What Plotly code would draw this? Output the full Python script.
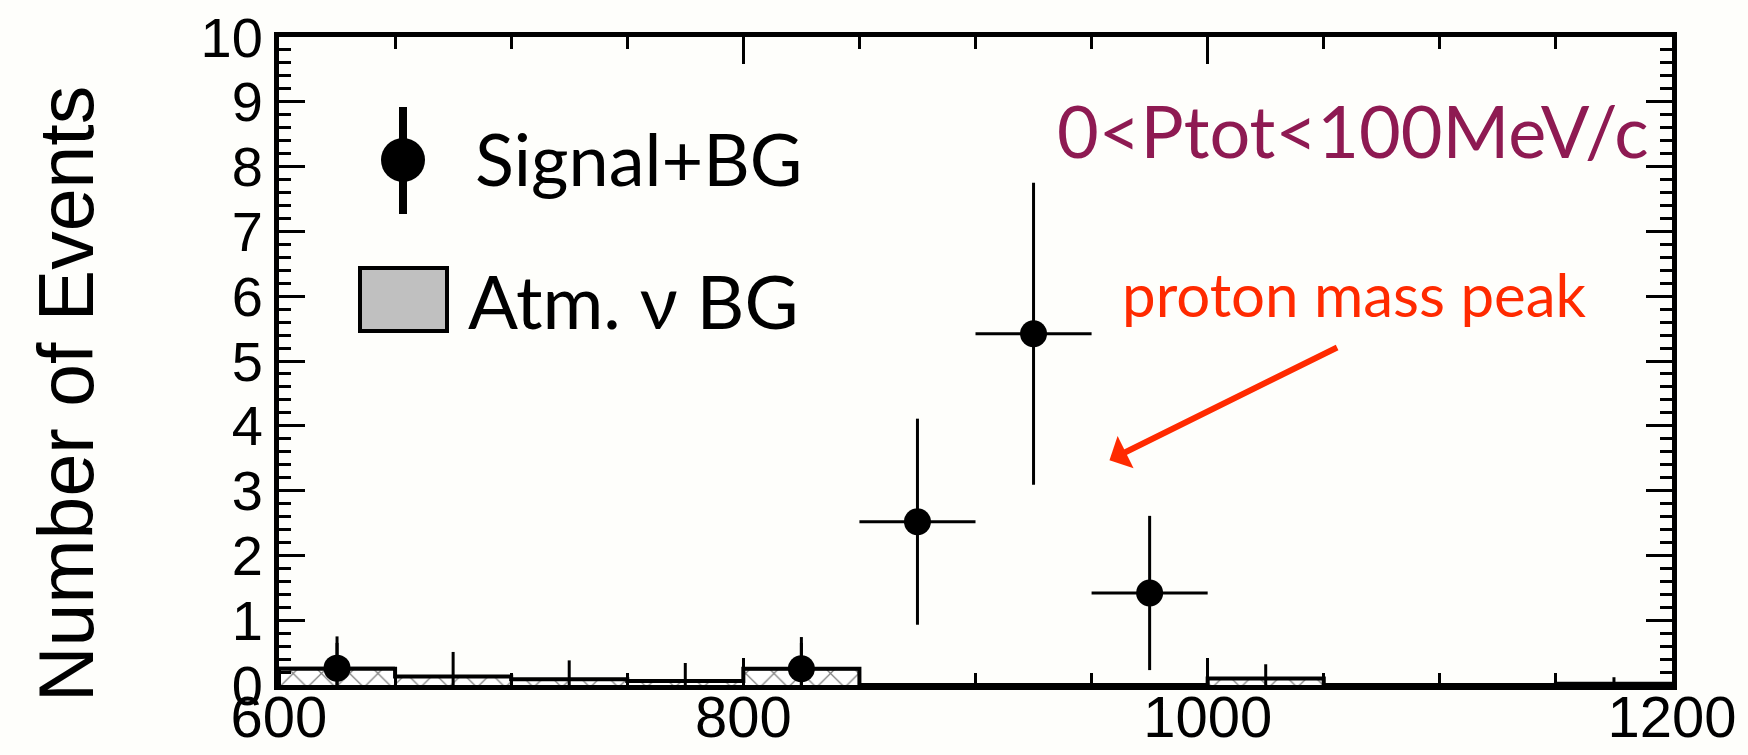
import plotly.graph_objects as go

# Reconstructed invariant mass (MeV/c^2), 50 MeV bins from 600 to 1200
bin_edges = [600, 650, 700, 750, 800, 850, 900, 950, 1000, 1050, 1100, 1150, 1200]
bin_centers = [625, 675, 725, 775, 825, 875, 925, 975, 1025, 1075, 1125, 1175]

# Atmospheric neutrino background expectation per bin and its MC uncertainty
bg_counts = [0.25, 0.13, 0.09, 0.06, 0.25, 0.0, 0.0, 0.0, 0.10, 0.0, 0.0, 0.02]
bg_errors = [0.40, 0.38, 0.29, 0.28, 0.40, 0.0, 0.0, 0.0, 0.22, 0.0, 0.0, 0.10]

# Observed events (signal + background), only non-empty bins
data_mass = [625, 825, 875, 925, 975]
data_counts = [0.26, 0.25, 2.52, 5.42, 1.42]
data_errors = [0.49, 0.49, 1.59, 2.33, 1.19]
half_bin = [25, 25, 25, 25, 25]

x_ticks = [600, 800, 1000, 1200]
y_ticks = list(range(0, 11))

# Plot-area geometry in page pixels
W, H = 1748, 755
L, R, T, B = 279, 1672, 37, 685


def px(xp):
    return (xp - L) / (R - L)


def py(yp):
    return (B - yp) / (B - T)


fig = go.Figure()

# Hatched fill of the background histogram
fig.add_trace(go.Bar(
    x=bin_centers, y=bg_counts, width=50,
    marker=dict(color="white", line=dict(width=0),
                pattern=dict(shape="x", fgcolor="black", bgcolor="white",
                             size=20, solidity=0.12)),
    showlegend=False, hoverinfo="skip",
))

# Step outline of the background histogram
fig.add_trace(go.Scatter(
    x=[bin_edges[0]] + bin_edges, y=[0] + bg_counts + [bg_counts[-1]],
    mode="lines", line=dict(color="black", width=4, shape="hv"),
    showlegend=False, hoverinfo="skip",
))

# MC uncertainty of the background, one vertical segment per filled bin
err_x, err_y = [], []
for c, v, e in zip(bin_centers, bg_counts, bg_errors):
    if e > 0:
        err_x += [c, c, None]
        err_y += [max(v - e, 0), v + e, None]
fig.add_trace(go.Scatter(
    x=err_x, y=err_y, mode="lines", line=dict(color="black", width=3),
    showlegend=False, hoverinfo="skip",
))

# Observed data points
fig.add_trace(go.Scatter(
    x=data_mass, y=data_counts, mode="markers",
    marker=dict(size=27, color="black"),
    error_y=dict(type="data", array=data_errors, color="black",
                 thickness=3, width=0, visible=True),
    error_x=dict(type="data", array=half_bin, color="black",
                 thickness=3, width=0, visible=True),
    showlegend=False,
))

# Hand-drawn legend
shapes = [
    dict(type="line", xref="paper", yref="paper", layer="above",
         x0=px(403), x1=px(403), y0=py(107), y1=py(214),
         line=dict(color="black", width=8)),
    dict(type="circle", xref="paper", yref="paper", layer="above",
         x0=px(381), x1=px(425), y0=py(138), y1=py(182),
         fillcolor="black", line=dict(color="black", width=0)),
    dict(type="rect", xref="paper", yref="paper", layer="above",
         x0=px(360), x1=px(447), y0=py(268), y1=py(331),
         fillcolor="#c0c0c0", line=dict(color="black", width=4)),
]

legend_font = dict(family="Lato", size=72, color="black")
annotations = [
    dict(text="Signal+BG", x=px(473), y=py(158), xref="paper", yref="paper",
         xanchor="left", yanchor="middle", showarrow=False, font=legend_font),
    dict(text="Atm. ν BG", x=px(466), y=py(300), xref="paper", yref="paper",
         xanchor="left", yanchor="middle", showarrow=False,
         font=dict(family="Lato", size=74, color="black")),
    dict(text="0<Ptot<100MeV/c", x=px(1651), y=py(130), xref="paper", yref="paper",
         xanchor="right", yanchor="middle", showarrow=False,
         font=dict(family="Lato", size=72, color="#8e1a52")),
    dict(text="proton mass peak", x=px(1120), y=py(294), xref="paper", yref="paper",
         xanchor="left", yanchor="middle", showarrow=False,
         font=dict(family="Lato", size=60, color="#ff2a00")),
    dict(text="Number of Events", x=px(66), y=py(394), xref="paper", yref="paper",
         xanchor="center", yanchor="middle", textangle=-90, showarrow=False,
         font=dict(family="Liberation Sans", size=77, color="black")),
]

# Arrow pointing at the peak region
arrow_tip = (957.7, 3.47)
arrow_tail = (1056.4, 5.22)
annotations.append(dict(
    x=arrow_tip[0], y=arrow_tip[1], ax=arrow_tail[0], ay=arrow_tail[1],
    xref="x", yref="y", axref="x", ayref="y", text="",
    showarrow=True, arrowhead=1, arrowsize=1.0, arrowwidth=6,
    arrowcolor="#ff2a00",
))

axis_common = dict(
    showline=True, linecolor="black", linewidth=5, mirror="ticks",
    ticks="inside", tickcolor="black", tickwidth=3,
    showgrid=False, zeroline=False, automargin=False,
)

fig.update_layout(
    width=W, height=H,
    margin=dict(l=L, r=W - R, t=T, b=H - B),
    paper_bgcolor="#fefefb", plot_bgcolor="#fefefb",
    shapes=shapes, annotations=annotations,
    barmode="overlay", bargap=0,
    xaxis=dict(range=[600, 1200], tickvals=x_ticks, ticklen=27,
               ticklabelstandoff=-23,
               minor=dict(dtick=50, ticklen=12, tickwidth=3, tickcolor="black",
                          ticks="inside"),
               tickfont=dict(family="Liberation Sans", size=58, color="black"),
               **axis_common),
    yaxis=dict(range=[0, 10], tickvals=y_ticks, ticklen=26,
               minor=dict(dtick=0.2, ticklen=12, tickwidth=3, tickcolor="black",
                          ticks="inside"),
               tickfont=dict(family="Liberation Sans", size=56, color="black"),
               **axis_common),
)

fig.write_html("out.html")
